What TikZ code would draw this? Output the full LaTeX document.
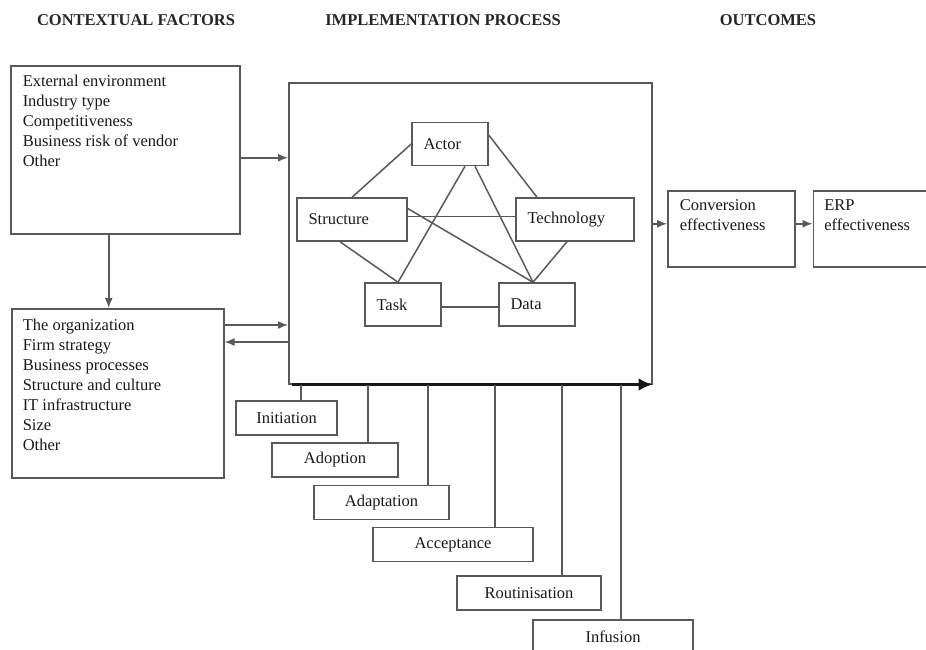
\documentclass[tikz,border=0pt]{standalone}
\usepackage{fontspec}
\setmainfont{Liberation Serif}
\usepackage{tikz}
\usetikzlibrary{arrows.meta, positioning, calc}

\begin{document}
\begin{tikzpicture}[>={Latex[length=10pt, width=8pt]}, x=1pt, y=-1pt, line width=1.5pt, color=black!65,
        font=\fontsize{16.5}{20}\selectfont,
        box/.style={draw, rectangle, inner sep=0pt},
        lbl/.style={align=left, inner sep=0pt, text=black!90, anchor=north west},
        cell/.style={draw, minimum height=43pt, inner xsep=11.5pt, align=left, text width=#1, text=black!90},
        phase/.style={draw, minimum height=34pt, text=black!90},
        head/.style={font=\fontsize{16.5}{20}\selectfont\bfseries, text=black!85}]
    \useasboundingbox (0,0) rectangle (926,649);

    % column headings
    \node[head] (hctx) at (136,20) {CONTEXTUAL FACTORS};
    \node[head] (himp) at (443,20) {IMPLEMENTATION PROCESS};
    \node[head] (hout) at (768,20) {OUTCOMES};

    % contextual factors
    \node[box, minimum width=229pt, minimum height=168pt, anchor=north west] (env) at (10,65) {};
    \node[lbl] (envtxt) at (22,74) {External environment\\Industry type\\Competitiveness\\Business risk of vendor\\Other};
    \node[box, minimum width=212pt, minimum height=169pt, anchor=north west] (org) at (11,308) {};
    \node[lbl] (orgtxt) at (22,318) {The organization\\Firm strategy\\Business processes\\Structure and culture\\IT infrastructure\\Size\\Other};

    % implementation process
    \node[box, minimum width=363pt, minimum height=301pt, anchor=north west] (impl) at (288,82) {};
    \node[cell=53pt] (actor) at (450,144) {Actor};
    \node[cell=87pt] (struct) at (352,219.5) {Structure};
    \node[cell=95pt] (tech) at (575,219.5) {Technology};
    \node[cell=53pt] (task) at (403,304.5) {Task};
    \node[cell=53pt] (data) at (537,304.5) {Data};

    \draw (actor.west) -- (struct.north);
    \draw ([xshift=15pt]actor.south) -- ([xshift=-5pt]task.north);
    \draw ([xshift=25pt]actor.south) -- ([xshift=-4pt]data.north);
    \draw ([yshift=9pt]actor.east) -- ([xshift=-38pt]tech.north);
    \draw ([yshift=3pt]struct.east) -- ([yshift=3pt]tech.west);
    \draw ([yshift=11pt]struct.east) -- ([xshift=-4pt]data.north);
    \draw ([xshift=-12pt]struct.south) -- ([xshift=-5pt]task.north);
    \draw ([xshift=-8pt]tech.south) -- ([xshift=-4pt]data.north);
    \draw ([yshift=-2.5pt]task.east) -- ([yshift=-2.5pt]data.west);

    % stages along the bottom
    \draw[-{Latex[length=14pt, width=13pt]}, line width=3.2pt, black!90] ([xshift=4pt]impl.south west) -- (impl.south east);
    \node[phase, minimum width=101pt] (init) at (286.5,418) {Initiation};
    \node[phase, minimum width=126pt] (adopt) at (335,460) {Adoption};
    \node[phase, minimum width=135pt] (adapt) at (381.5,502.5) {Adaptation};
    \node[phase, minimum width=160pt] (accept) at (453,544.5) {Acceptance};
    \node[phase, minimum width=144pt] (routine) at (529,593) {Routinisation};
    \node[phase, minimum width=160pt] (infuse) at (613,637) {Infusion};
    \foreach \n/\dx in {init/14.5, adopt/33, adapt/46.5, accept/42, routine/33, infuse/8} {
        \coordinate (\n-top) at ([xshift=\dx pt]\n.north);
        \draw (\n-top) -- (\n-top |- impl.south);
    }

    % outcomes
    \node[box, minimum width=127pt, minimum height=76pt, anchor=north west] (conv) at (667,190) {};
    \node[lbl] (convtxt) at (679,199) {Conversion\\effectiveness};
    \node[box, minimum width=127pt, minimum height=76pt, right=17pt of conv] (erp) {};
    \node[lbl] (erptxt) at ([shift={(11,9)}]erp.north west) {ERP\\effectiveness};

    % links between the columns
    \draw[->] ([xshift=-16.5pt]env.south) -- ([xshift=-16.5pt]env.south |- org.north);
    \coordinate (e1) at ([yshift=-8pt]env.east);
    \draw[->] (e1) -- (e1 -| impl.west);
    \coordinate (o1) at ($(org.north east)+(0,17)$);
    \coordinate (o2) at ($(org.north east)+(0,34)$);
    \draw[->] (o1) -- (o1 -| impl.west);
    \draw[<-] (o2) -- (o2 -| impl.west);
    \coordinate (c1) at ([yshift=5pt]conv.west);
    \draw[->] (c1 -| impl.east) -- (c1);
    \draw[->] ([yshift=5pt]conv.east) -- ([yshift=5pt]erp.west);
\end{tikzpicture}
\end{document}
